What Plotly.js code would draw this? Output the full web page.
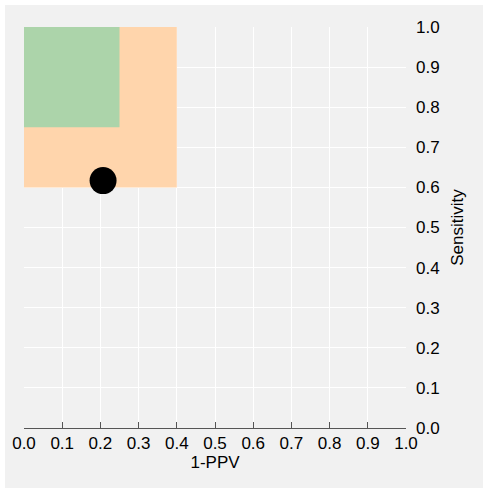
<!DOCTYPE html>
<html>
<head>
<meta charset="utf-8">
<script src="https://cdn.plot.ly/plotly-3.0.1.min.js"></script>
<style>
html, body { margin: 0; padding: 0; background: #ffffff; width: 483px; height: 488px; overflow: hidden; }
#chart { position: absolute; left: 5px; top: 5px; width: 478px; height: 483px; }
</style>
</head>
<body>
<div id="chart"></div>
<script>
// Target regions (rectangles) in (1-PPV, Sensitivity) space
const regionNames = ["acceptable", "desirable"];
const regionX0 = [0.0, 0.0];
const regionX1 = [0.4, 0.25];
const regionY0 = [0.6, 0.75];
const regionY1 = [1.0, 1.0];
const regionColors = ["rgb(255,213,172)", "rgb(172,212,170)"];

// Observed point
const pointX = [0.207];
const pointY = [0.617];

const tickVals = [0, 0.1, 0.2, 0.3, 0.4, 0.5, 0.6, 0.7, 0.8, 0.9, 1.0];
const tickText = ["0.0", "0.1", "0.2", "0.3", "0.4", "0.5", "0.6", "0.7", "0.8", "0.9", "1.0"];

const traces = regionNames.map((name, i) => ({
  type: "scatter",
  mode: "lines",
  name: name,
  x: [regionX0[i], regionX1[i], regionX1[i], regionX0[i], regionX0[i]],
  y: [regionY0[i], regionY0[i], regionY1[i], regionY1[i], regionY0[i]],
  fill: "toself",
  fillcolor: regionColors[i],
  line: { width: 0 },
  hoverinfo: "skip",
  showlegend: false
}));

traces.push({
  type: "scatter",
  mode: "markers",
  x: pointX,
  y: pointY,
  marker: { color: "#000000", size: 27 },
  cliponaxis: false,
  showlegend: false
});

const font = { family: "Liberation Sans, Arial, sans-serif", size: 17, color: "#000000" };

const layout = {
  width: 478,
  height: 483,
  paper_bgcolor: "#f1f1f1",
  plot_bgcolor: "#f1f1f1",
  margin: { l: 19, r: 77, t: 22, b: 60 },
  font: font,
  showlegend: false,
  xaxis: {
    range: [0, 1],
    tickvals: tickVals,
    ticktext: tickText,
    showgrid: true,
    gridcolor: "#ffffff",
    gridwidth: 1,
    zeroline: false,
    showline: true,
    linecolor: "#555555",
    linewidth: 1,
    ticks: "inside",
    ticklen: 6,
    tickcolor: "#555555",
    title: { text: "1-PPV", font: font, standoff: 0 },
    fixedrange: true
  },
  yaxis: {
    range: [0, 1],
    side: "right",
    tickvals: tickVals,
    ticktext: tickText,
    showgrid: true,
    gridcolor: "#ffffff",
    gridwidth: 1,
    zeroline: false,
    showline: false,
    ticks: "",
    ticklabelstandoff: 9,
    title: { text: "Sensitivity", font: font, standoff: 12 },
    fixedrange: true
  }
};

Plotly.newPlot("chart", traces, layout, { displayModeBar: false, staticPlot: true });
</script>
</body>
</html>
